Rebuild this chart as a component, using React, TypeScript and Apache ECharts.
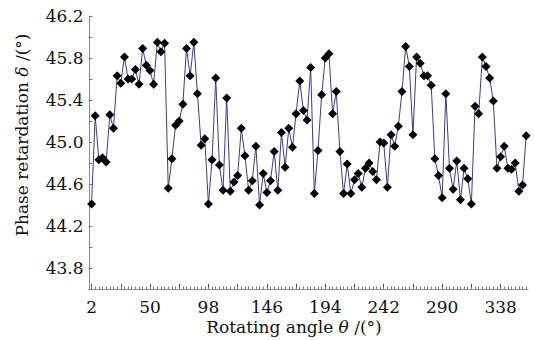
import React, { useEffect, useRef } from "react";
import * as echarts from "echarts";

const angles = [
  2, 5, 8, 11, 14, 17, 20, 23, 26, 29, 32, 35, 38, 41, 44, 47, 50, 53, 56, 59,
  62, 65, 68, 71, 74, 77, 80, 83, 86, 89, 92, 95, 98, 101, 104, 107, 110, 113, 116, 119,
  122, 125, 128, 131, 134, 137, 140, 143, 146, 149, 152, 155, 158, 161, 164, 167, 170, 173, 176, 179,
  182, 185, 188, 191, 194, 197, 200, 203, 206, 209, 212, 215, 218, 221, 224, 227, 230, 233, 236, 239,
  242, 245, 248, 251, 254, 257, 260, 263, 266, 269, 272, 275, 278, 281, 284, 287, 290, 293, 296, 299,
  302, 305, 308, 311, 314, 317, 320, 323, 326, 329, 332, 335, 338, 341, 344, 347, 350, 353, 356, 359,
];

const retardation = [
  44.41, 45.25, 44.83, 44.85, 44.81, 45.26, 45.13, 45.63, 45.56, 45.81,
  45.6, 45.6, 45.69, 45.55, 45.89, 45.73, 45.68, 45.55, 45.95, 45.86,
  45.94, 44.56, 44.84, 45.16, 45.2, 45.36, 45.89, 45.63, 45.95, 45.46,
  44.97, 45.03, 44.41, 44.83, 45.61, 44.78, 44.54, 45.42, 44.53, 44.62,
  44.68, 45.13, 44.87, 44.54, 44.63, 44.96, 44.4, 44.7, 44.52, 44.63,
  44.91, 44.54, 45.09, 44.76, 45.13, 44.95, 45.27, 45.58, 45.3, 45.21,
  45.71, 44.51, 44.92, 45.45, 45.8, 45.84, 45.27, 45.48, 44.91, 44.51,
  44.79, 44.51, 44.64, 44.7, 44.57, 44.75, 44.8, 44.72, 44.64, 45.0,
  44.99, 44.57, 45.07, 44.96, 45.15, 45.48, 45.91, 45.72, 45.07, 45.81,
  45.75, 45.63, 45.63, 45.54, 44.84, 44.68, 44.47, 45.46, 44.75, 44.55,
  44.82, 44.45, 44.75, 44.65, 44.41, 45.34, 45.27, 45.81, 45.72, 45.61,
  45.39, 44.75, 44.86, 44.96, 44.75, 44.74, 44.8, 44.53, 44.59, 45.06,
];

const xLabelValues = [2, 50, 98, 146, 194, 242, 290, 338];
const xMajorTicks = [2, 26, 50, 74, 98, 122, 146, 170, 194, 218, 242, 266, 290, 314, 338];
const yLabelValues = ["43.8", "44.2", "44.6", "45.0", "45.4", "45.8", "46.2"];

const FONT = "'DejaVu Serif', 'Liberation Serif', serif";

export default function App() {
  const ref = useRef<HTMLDivElement>(null);

  useEffect(() => {
    if (!ref.current) return;
    const chart = echarts.init(ref.current, undefined, { renderer: "svg" });
    const axisColor = "#8a8a8a";
    const tickColor = "#444";
    chart.setOption({
      animation: false,
      backgroundColor: "#fff",
      grid: { left: 88.5, top: 16, right: 6, bottom: 51, containLabel: false },
      xAxis: [
        {
          type: "value",
          min: -0.5,
          max: 360.5,
          axisLine: { show: true, lineStyle: { color: axisColor, width: 1 } },
          axisTick: {
            show: true,
            inside: true,
            length: 5,
            customValues: xMajorTicks,
            lineStyle: { color: tickColor, width: 1 },
          },
          axisLabel: {
            customValues: xLabelValues,
            fontFamily: FONT,
            fontSize: 17,
            color: "#111",
            margin: 9,
          },
          splitLine: { show: false },
        },
        {
          type: "value",
          min: -0.5,
          max: 360.5,
          position: "bottom",
          axisLine: { show: false },
          axisTick: {
            show: true,
            inside: true,
            length: 2.5,
            customValues: angles,
            lineStyle: { color: "#777", width: 1 },
          },
          axisLabel: { show: false },
          splitLine: { show: false },
        },
      ],
      yAxis: {
        type: "value",
        min: 43.6,
        max: 46.2,
        interval: 0.2,
        axisLine: { show: true, lineStyle: { color: axisColor, width: 1 } },
        axisTick: { show: true, inside: true, length: 3, lineStyle: { color: "#777" } },
        axisLabel: {
          fontFamily: FONT,
          fontSize: 17,
          color: "#111",
          margin: 5,
          formatter: (v: number) => {
            const s = v.toFixed(1);
            return yLabelValues.includes(s) ? s : "";
          },
        },
        splitLine: { show: false },
      },
      graphic: [
        {
          type: "text",
          x: 294,
          y: 327,
          style: {
            text: "{a|Rotating angle }{i|θ}{a| /(°)}",
            align: "center",
            verticalAlign: "middle",
            rich: {
              a: { fontFamily: FONT, fontSize: 17, fill: "#111" },
              i: { fontFamily: FONT, fontSize: 17, fontStyle: "italic", fill: "#111" },
            },
          },
        },
        {
          type: "text",
          x: 22,
          y: 135,
          rotation: Math.PI / 2,
          style: {
            text: "{a|Phase retardation }{i|δ}{a| /(°)}",
            align: "center",
            verticalAlign: "middle",
            rich: {
              a: { fontFamily: FONT, fontSize: 17, fill: "#111" },
              i: { fontFamily: FONT, fontSize: 17, fontStyle: "italic", fill: "#111" },
            },
          },
        },
      ],
      series: [
        {
          type: "line",
          xAxisIndex: 0,
          data: angles.map((a, i) => [a, retardation[i]]),
          symbol: "diamond",
          symbolSize: 9,
          itemStyle: { color: "#000" },
          lineStyle: { color: "#3c3c82", width: 1 },
        },
      ],
    });
    return () => chart.dispose();
  }, []);

  return (
    <div
      ref={ref}
      style={{ position: "absolute", left: 0, top: 0, width: 534, height: 340, background: "#fff" }}
    />
  );
}
